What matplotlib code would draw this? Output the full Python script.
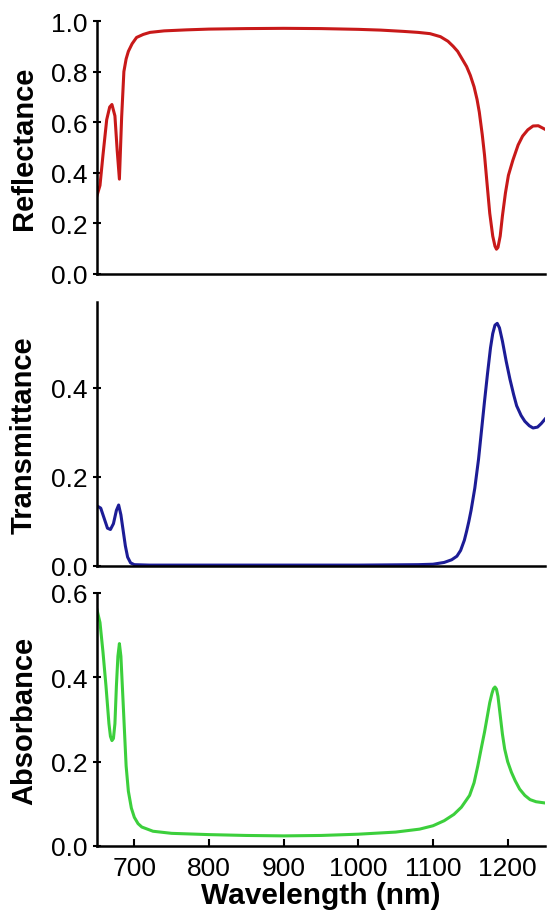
import matplotlib
matplotlib.use("Agg")
import matplotlib.pyplot as plt

wl_r = [650, 654, 658, 663, 667, 670, 674, 677, 680, 683, 686, 689, 692, 697,
        703, 712, 721, 740, 770, 800, 850, 900, 950, 1000, 1030, 1060, 1080,
        1096, 1110, 1120, 1127, 1133, 1139, 1145, 1150, 1155, 1159, 1162, 1166,
        1169, 1172, 1176, 1180, 1183, 1185, 1187, 1190, 1193, 1197, 1201, 1207,
        1214, 1220, 1227, 1234, 1241, 1250]
refl = [0.31, 0.35, 0.47, 0.61, 0.66, 0.67, 0.625, 0.49, 0.375, 0.62, 0.80,
        0.85, 0.88, 0.91, 0.935, 0.947, 0.955, 0.961, 0.965, 0.968, 0.970,
        0.971, 0.970, 0.967, 0.964, 0.959, 0.955, 0.950, 0.938, 0.920, 0.900,
        0.880, 0.850, 0.820, 0.785, 0.740, 0.690, 0.640, 0.550, 0.470, 0.370,
        0.240, 0.150, 0.110, 0.098, 0.105, 0.150, 0.230, 0.320, 0.390, 0.450,
        0.510, 0.545, 0.570, 0.585, 0.586, 0.572]

wl_t = [650, 655, 660, 664, 668, 672, 676, 679, 682, 685, 688, 691, 695, 700,
        720, 800, 900, 1000, 1080, 1100, 1115, 1125, 1132, 1137, 1142, 1145,
        1148, 1151, 1153, 1156, 1161, 1165, 1169, 1173, 1177, 1180, 1183, 1186,
        1189, 1193, 1198, 1203, 1208, 1212, 1218, 1223, 1229, 1234, 1240, 1245,
        1250]
trans = [0.135, 0.130, 0.105, 0.085, 0.082, 0.095, 0.125, 0.137, 0.115, 0.080,
         0.045, 0.020, 0.007, 0.003, 0.002, 0.002, 0.002, 0.002, 0.003, 0.004,
         0.008, 0.014, 0.022, 0.035, 0.058, 0.078, 0.100, 0.125, 0.145, 0.175,
         0.240, 0.305, 0.370, 0.432, 0.490, 0.522, 0.541, 0.545, 0.535, 0.505,
         0.460, 0.420, 0.385, 0.360, 0.338, 0.325, 0.315, 0.310, 0.312, 0.320,
         0.330]

wl_a = [650, 654, 658, 662, 666, 668, 670, 672, 674, 676, 678, 680, 682, 685,
        689, 692, 696, 700, 705, 710, 725, 750, 800, 850, 900, 950, 1000, 1050,
        1082, 1100, 1115, 1128, 1138, 1149, 1155, 1160, 1165, 1169, 1173, 1176,
        1179, 1181, 1183, 1185, 1187, 1190, 1193, 1196, 1200, 1205, 1210, 1216,
        1223, 1230, 1238, 1250]
absb = [0.56, 0.53, 0.46, 0.38, 0.29, 0.26, 0.25, 0.255, 0.29, 0.38, 0.45,
        0.48, 0.45, 0.34, 0.19, 0.13, 0.09, 0.068, 0.053, 0.045, 0.035, 0.030,
        0.027, 0.025, 0.024, 0.025, 0.028, 0.033, 0.040, 0.048, 0.060, 0.075,
        0.092, 0.120, 0.150, 0.190, 0.235, 0.270, 0.310, 0.340, 0.362, 0.373,
        0.377, 0.372, 0.355, 0.310, 0.265, 0.230, 0.200, 0.175, 0.155, 0.135,
        0.120, 0.110, 0.105, 0.102]

x_ticks = [700, 800, 900, 1000, 1100, 1200]

plt.rcParams["font.family"] = ["Liberation Sans", "DejaVu Sans"]

fig = plt.figure(figsize=(5.47, 9.20), dpi=100)
left, width = 97 / 547, 448 / 547
panels = [
    # (bas, hauteur, x, y, couleur, label, ylim, yticks)
    (1 - 275 / 920, 253 / 920, wl_r, refl, "#c81919", "Reflectance",
     (0, 1.0), [0.0, 0.2, 0.4, 0.6, 0.8, 1.0]),
    (1 - 567 / 920, 264 / 920, wl_t, trans, "#1c1c96", "Transmittance",
     (0, 0.593), [0.0, 0.2, 0.4]),
    (1 - 847 / 920, 253 / 920, wl_a, absb, "#3ccf3c", "Absorbance",
     (0, 0.6), [0.0, 0.2, 0.4, 0.6]),
]

axes = []
for bottom, height, x, y, color, label, ylim, yticks in panels:
    ax = fig.add_axes([left, bottom, width, height])
    ax.plot(x, y, color=color, lw=2.2, solid_joinstyle="round")
    ax.set_xlim(650, 1250)
    ax.set_ylim(*ylim)
    ax.set_yticks(yticks)
    ax.set_yticklabels([f"{v:.1f}" for v in yticks])
    for side in ("top", "right"):
        ax.spines[side].set_visible(False)
    for side in ("left", "bottom"):
        ax.spines[side].set_linewidth(1.8)
    ax.tick_params(axis="y", direction="inout", length=6, width=1.5,
                   labelsize=19, pad=4)
    ax.tick_params(axis="x", direction="in", length=5, width=1.5,
                   labelsize=19, pad=7)
    ax.set_ylabel(label, fontsize=21, fontweight="bold")
    ax.yaxis.set_label_coords(-0.132, 0.5)
    axes.append(ax)

for ax in axes[:2]:
    ax.set_xticks([])
axes[2].set_xticks(x_ticks)
axes[2].set_xlabel("Wavelength (nm)", fontsize=21.5, fontweight="bold",
                   labelpad=1)

fig.savefig("out.png", dpi=100)
